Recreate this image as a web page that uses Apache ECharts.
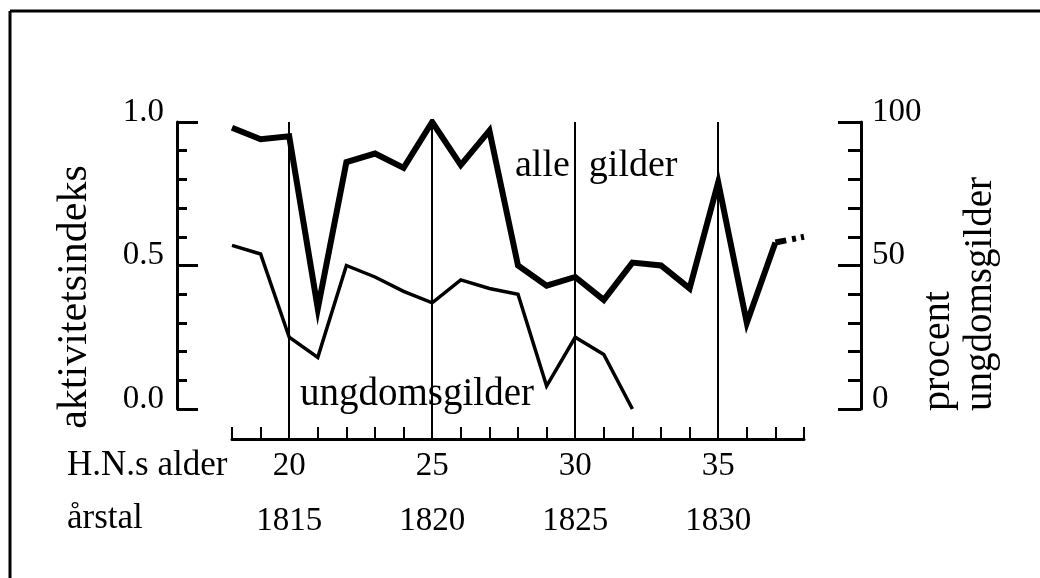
<!DOCTYPE html>
<html>
<head>
<meta charset="utf-8">
<script src="https://cdn.jsdelivr.net/npm/echarts@6/dist/echarts.min.js"></script>
<style>
  html, body { margin: 0; padding: 0; background: #fff; }
  #main { width: 1040px; height: 578px; }
</style>
</head>
<body>
<div id="main"></div>
<script>
// værdier
const alleAges = [18, 19, 20, 21, 22, 23, 24, 25, 26, 27, 28, 29, 30, 31, 32, 33, 34, 35, 36, 37];
const alleGilder = [0.98, 0.94, 0.95, 0.35, 0.86, 0.89, 0.84, 1.0, 0.85, 0.97, 0.50, 0.43, 0.46, 0.38, 0.51, 0.50, 0.42, 0.79, 0.30, 0.58];
// stiplet fortsættelse efter 37
const tailAges = [37, 38];
const tailValues = [0.58, 0.60];
const ungdomsAges = [18, 19, 20, 21, 22, 23, 24, 25, 26, 27, 28, 29, 30, 31, 32];
const ungdomsGilder = [57, 54, 25, 18, 50, 46, 41, 37, 45, 42, 40, 8, 25, 19, 0];
// lodrette linjer og akse-tekster
const markAges = [20, 25, 30, 35];
const ageLabels = [20, 25, 30, 35];
const yearLabels = [1815, 1820, 1825, 1830];

const FONT = "'Liberation Serif', 'DejaVu Serif', serif";
const zip = (xs, ys) => xs.map((x, i) => [x, ys[i]]);

const myChart = echarts.init(document.getElementById('main'));

const option = {
  backgroundColor: '#fff',
  animation: false,
  grid: [
    // datagitter: y=0 ligger over x-aksen
    { left: 232, right: 236, top: 122, bottom: 169, outerBoundsMode: 'none' },
    // aksegitter: x-aksen og de lodrette linjer
    { left: 232, right: 236, top: 122, bottom: 139, outerBoundsMode: 'none' }
  ],
  xAxis: [
    { gridIndex: 0, type: 'value', min: 18, max: 38, show: false },
    {
      gridIndex: 1, type: 'value', position: 'bottom', min: 18, max: 38, interval: 1,
      axisLine: { lineStyle: { color: '#000', width: 3 } },
      axisTick: { inside: true, length: 12, lineStyle: { color: '#000', width: 2 } },
      splitLine: { show: false },
      axisLabel: {
        margin: 11, color: '#000', fontSize: 33, fontFamily: FONT,
        formatter: v => ageLabels.includes(v) ? String(v) : ''
      }
    },
    {
      gridIndex: 1, type: 'value', position: 'bottom', min: 18, max: 38, interval: 1, offset: 55,
      axisLine: { show: false }, axisTick: { show: false }, splitLine: { show: false },
      axisLabel: {
        margin: 11, color: '#000', fontSize: 33, fontFamily: FONT,
        formatter: v => {
          const i = ageLabels.indexOf(v);
          return i >= 0 ? String(yearLabels[i]) : '';
        }
      }
    }
  ],
  yAxis: [
    {
      gridIndex: 0, type: 'value', position: 'left', offset: 55,
      min: 0, max: 1, interval: 0.5,
      axisLine: { show: true, lineStyle: { color: '#000', width: 3 } },
      axisTick: { show: true, inside: true, length: 21, lineStyle: { color: '#000', width: 3 } },
      minorTick: { show: true, splitNumber: 5, length: 10, lineStyle: { color: '#000', width: 3 } },
      splitLine: { show: false },
      axisLabel: {
        margin: 13, color: '#000', fontSize: 33, fontFamily: FONT,
        verticalAlign: 'bottom', lineHeight: 20,
        formatter: v => v.toFixed(1)
      }
    },
    {
      gridIndex: 0, type: 'value', position: 'right', offset: 57,
      min: 0, max: 100, interval: 50,
      axisLine: { show: true, lineStyle: { color: '#000', width: 3 } },
      axisTick: { show: true, inside: true, length: 23, lineStyle: { color: '#000', width: 3 } },
      minorTick: { show: true, splitNumber: 5, length: 13, lineStyle: { color: '#000', width: 3 } },
      splitLine: { show: false },
      axisLabel: {
        margin: 11, color: '#000', fontSize: 33, fontFamily: FONT,
        verticalAlign: 'bottom', lineHeight: 20
      }
    },
    { gridIndex: 1, type: 'value', min: 0, max: 1, show: false }
  ],
  series: [
    {
      name: 'alle gilder', type: 'line', xAxisIndex: 0, yAxisIndex: 0,
      data: zip(alleAges, alleGilder), symbol: 'none',
      lineStyle: { color: '#000', width: 6, join: 'miter' }
    },
    {
      name: 'alle gilder (forts.)', type: 'line', xAxisIndex: 0, yAxisIndex: 0,
      data: zip(tailAges, tailValues), symbol: 'none',
      lineStyle: { color: '#000', width: 6, type: [11, 6, 4, 5, 4, 100], cap: 'butt' }
    },
    {
      name: 'ungdomsgilder', type: 'line', xAxisIndex: 0, yAxisIndex: 1,
      data: zip(ungdomsAges, ungdomsGilder), symbol: 'none',
      lineStyle: { color: '#000', width: 3.5, join: 'miter' }
    },
    {
      // kun til de lodrette linjer ved 20, 25, 30, 35
      name: 'markeringer', type: 'line', xAxisIndex: 1, yAxisIndex: 2,
      data: [], symbol: 'none',
      markLine: {
        silent: true, symbol: 'none', animation: false,
        label: { show: false },
        lineStyle: { color: '#000', width: 2, type: 'solid' },
        data: markAges.map(a => ({ xAxis: a }))
      }
    }
  ],
  graphic: [
    // ramme (top og venstre)
    { type: 'line', shape: { x1: 10, y1: 11, x2: 1040, y2: 11 }, style: { stroke: '#000', lineWidth: 3 } },
    { type: 'line', shape: { x1: 10, y1: 11, x2: 10, y2: 578 }, style: { stroke: '#000', lineWidth: 3 } },
    {
      type: 'text', x: 75, y: 297, rotation: Math.PI / 2,
      style: { text: 'aktivitetsindeks', fill: '#000', fontSize: 42, fontFamily: FONT, align: 'center', verticalAlign: 'middle' }
    },
    {
      type: 'text', x: 938, y: 411, rotation: Math.PI / 2,
      style: { text: 'procent', fill: '#000', fontSize: 40, fontFamily: FONT, align: 'left', verticalAlign: 'middle' }
    },
    {
      type: 'text', x: 981, y: 411, rotation: Math.PI / 2,
      style: { text: 'ungdomsgilder', fill: '#000', fontSize: 39, fontFamily: FONT, align: 'left', verticalAlign: 'middle' }
    },
    {
      type: 'text', x: 67, y: 466,
      style: { text: 'H.N.s alder', fill: '#000', fontSize: 35, fontFamily: FONT, align: 'left', verticalAlign: 'middle' }
    },
    {
      type: 'text', x: 67, y: 519,
      style: { text: 'årstal', fill: '#000', fontSize: 35, fontFamily: FONT, align: 'left', verticalAlign: 'middle' }
    },
    {
      type: 'text', x: 515, y: 166,
      style: { text: 'alle  gilder', fill: '#000', fontSize: 38, fontFamily: FONT, align: 'left', verticalAlign: 'middle' }
    },
    {
      type: 'text', x: 300, y: 395,
      style: { text: 'ungdomsgilder', fill: '#000', fontSize: 39, fontFamily: FONT, align: 'left', verticalAlign: 'middle' }
    }
  ]
};

myChart.setOption(option);
</script>
</body>
</html>
